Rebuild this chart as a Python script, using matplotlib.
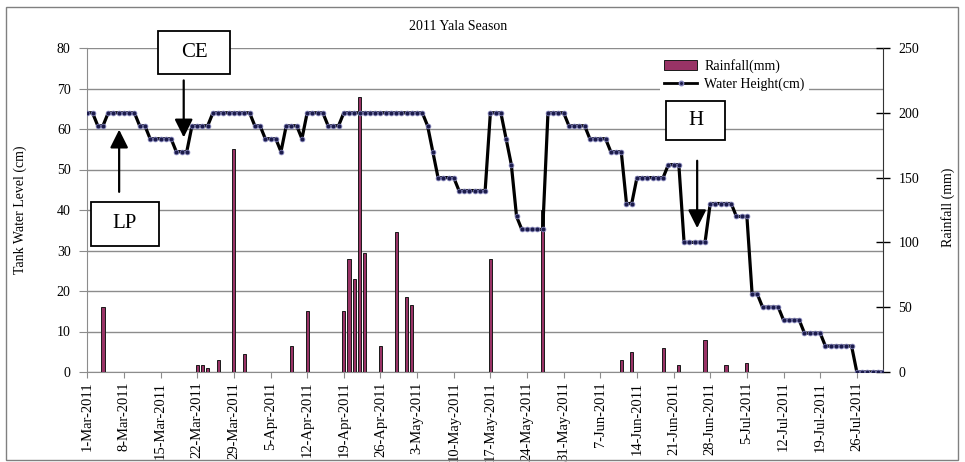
import pandas as pd
import numpy as np
import matplotlib
matplotlib.use('Agg')
import matplotlib.pyplot as plt
from matplotlib.patches import Patch, Rectangle
from matplotlib.lines import Line2D

plt.rcParams['font.family'] = ['Liberation Serif', 'DejaVu Serif']

# daily series, 1-Mar-2011 .. 31-Jul-2011
dates = pd.date_range('2011-03-01', '2011-07-31', freq='D')

# water height (cm), one value per day
water_height_cm = [
    200, 200, 190, 190, 200, 200, 200, 200, 200, 200,   # 1-10 Mar
    190, 190, 180, 180, 180, 180, 180, 170, 170, 170,   # 11-20 Mar
    190, 190, 190, 190, 200, 200, 200, 200, 200, 200,   # 21-30 Mar
    200, 200, 190, 190, 180, 180, 180, 170, 190, 190,   # 31 Mar-9 Apr
    190, 180, 200, 200, 200, 200, 190, 190, 190, 200,   # 10-19 Apr
    200, 200, 200, 200, 200, 200, 200, 200, 200, 200,   # 20-29 Apr
    200, 200, 200, 200, 200, 190, 170, 150, 150, 150,   # 30 Apr-9 May
    150, 140, 140, 140, 140, 140, 140, 200, 200, 200,   # 10-19 May
    180, 160, 120, 110, 110, 110, 110, 110, 200, 200,   # 20-29 May
    200, 200, 190, 190, 190, 190, 180, 180, 180, 180,   # 30 May-8 Jun
    170, 170, 170, 130, 130, 150, 150, 150, 150, 150,   # 9-18 Jun
    150, 160, 160, 160, 100, 100, 100, 100, 100, 130,   # 19-28 Jun
    130, 130, 130, 130, 120, 120, 120, 60, 60, 50,      # 29 Jun-8 Jul
    50, 50, 50, 40, 40, 40, 40, 30, 30, 30,             # 9-18 Jul
    30, 20, 20, 20, 20, 20, 20, 0, 0, 0,                # 19-28 Jul
    0, 0, 0,                                            # 29-31 Jul
]

# rainfall (mm) on the days that had rain
rain_dates = ['2011-03-04', '2011-03-22', '2011-03-23', '2011-03-24', '2011-03-26',
              '2011-03-29', '2011-03-31', '2011-04-09', '2011-04-12', '2011-04-19',
              '2011-04-20', '2011-04-21', '2011-04-22', '2011-04-23', '2011-04-26',
              '2011-04-29', '2011-05-01', '2011-05-02', '2011-05-17', '2011-05-27',
              '2011-06-11', '2011-06-13', '2011-06-19', '2011-06-22', '2011-06-27',
              '2011-07-01', '2011-07-05']
rain_mm = [16, 1.8, 1.8, 0.9, 3, 55, 4.5, 6.3, 15, 15,
           28, 23, 68, 29.5, 6.4, 34.5, 18.5, 16.5, 28, 40,
           3, 5, 6, 1.8, 8, 1.8, 2.2]

tick_labels = ['1-Mar-2011', '8-Mar-2011', '15-Mar-2011', '22-Mar-2011', '29-Mar-2011',
               '5-Apr-2011', '12-Apr-2011', '19-Apr-2011', '26-Apr-2011', '3-May-2011',
               '10-May-2011', '17-May-2011', '24-May-2011', '31-May-2011', '7-Jun-2011',
               '14-Jun-2011', '21-Jun-2011', '28-Jun-2011', '5-Jul-2011', '12-Jul-2011',
               '19-Jul-2011', '26-Jul-2011']

W, H = 965, 462
fig = plt.figure(figsize=(W / 100, H / 100), dpi=100)
ax = fig.add_axes([87.3 / W, 1 - 372 / H, (883 - 87.3) / W, (372 - 48) / H])
ax2 = ax.twinx()

grid_col = '#8c8c8c'

# rainfall bars (left scale)
ax.bar(pd.to_datetime(rain_dates), rain_mm, width=0.6, color='#993366',
       edgecolor='#1a1a1a', linewidth=0.7, zorder=3)
ax.set_ylim(0, 80)
ax.set_yticks(np.arange(0, 81, 10))
ax.yaxis.grid(True, color=grid_col, lw=1)
ax.set_axisbelow(True)
ax.set_xlim(dates[0], dates[-1])

# water height line (right scale)
ax2.plot(dates, water_height_cm, color='black', lw=2.3, marker='o', ms=3.4,
         mfc='#1c1c4a', mec='#8080b8', mew=0.6, zorder=4)
ax2.set_ylim(0, 250)
ax2.set_yticks(np.arange(0, 251, 50))

tick_pos = pd.to_datetime(tick_labels, format='%d-%b-%Y')
ax.set_xticks(tick_pos)
ax.set_xticklabels(tick_labels, rotation=90, fontsize=10.5)
ax.tick_params(axis='x', length=4, color=grid_col, pad=3)
ax.tick_params(axis='y', length=6, color=grid_col, labelsize=10, pad=6)
ax2.tick_params(axis='y', direction='inout', length=10, width=1, color='black',
                labelsize=10, pad=6)

for s in ['top', 'right']:
    ax.spines[s].set_visible(False)
ax.spines['left'].set_color(grid_col)
ax.spines['bottom'].set_color(grid_col)
for s in ['top', 'left', 'bottom']:
    ax2.spines[s].set_visible(False)
ax2.spines['right'].set_color('#333333')

fig.text(20 / W, 1 - 210 / H, 'Tank Water Level (cm)', rotation=90,
         ha='center', va='center', fontsize=10)
fig.text(948 / W, 1 - 207 / H, 'Rainfall (mm)', rotation=90,
         ha='center', va='center', fontsize=10)
fig.text(458 / W, 1 - 27 / H, '2011 Yala Season', ha='center', va='center', fontsize=10)

handles = [Patch(facecolor='#993366', edgecolor='#1a1a1a', lw=0.7),
           Line2D([], [], color='black', lw=2, marker='o', ms=3.2,
                  mfc='#1c1c4a', mec='#8080b8')]
leg = ax2.legend(handles, ['Rainfall(mm)', 'Water Height(cm)'],
                 loc='upper left', bbox_to_anchor=(653 / W, 1 - 48 / H),
                 bbox_transform=fig.transFigure, frameon=True, fancybox=False,
                 framealpha=1, edgecolor='none', fontsize=10, handlelength=2.4,
                 handleheight=0.8, borderpad=0.3, labelspacing=0.35, handletextpad=0.5)

# annotation boxes
boxes = [('CE', 158, 31, 230, 74), ('LP', 91, 202, 159, 246), ('H', 666, 101, 725, 140)]
for lab, x0, y0, x1, y1 in boxes:
    fig.add_artist(Rectangle((x0 / W, 1 - y1 / H), (x1 - x0) / W, (y1 - y0) / H,
                             transform=fig.transFigure, facecolor='white',
                             edgecolor='black', lw=1.3, zorder=5))
    fig.text((x0 + x1) / 2 / W, 1 - (y0 + y1) / 2 / H, lab, ha='center',
             va='center', fontsize=15, zorder=6)

arrows = [('2011-03-19 10:00', 225, 181), ('2011-03-07 02:00', 139, 187),
          ('2011-06-25 12:00', 163, 111)]
arrow_style = '-|>,head_length=1.1,head_width=0.55'
for d, y_from, y_to in arrows:
    ax2.annotate('', xy=(pd.Timestamp(d), y_to), xytext=(pd.Timestamp(d), y_from),
                 arrowprops=dict(arrowstyle=arrow_style, color='black', lw=1.6,
                                 mutation_scale=10, shrinkA=0, shrinkB=0),
                 annotation_clip=False, zorder=6)

fig.add_artist(Rectangle((6 / W, 1 - 460 / H), (958 - 6) / W, (460 - 7) / H,
                         transform=fig.transFigure, fill=False,
                         edgecolor='#808080', lw=1))

fig.savefig('out.png', dpi=100)
